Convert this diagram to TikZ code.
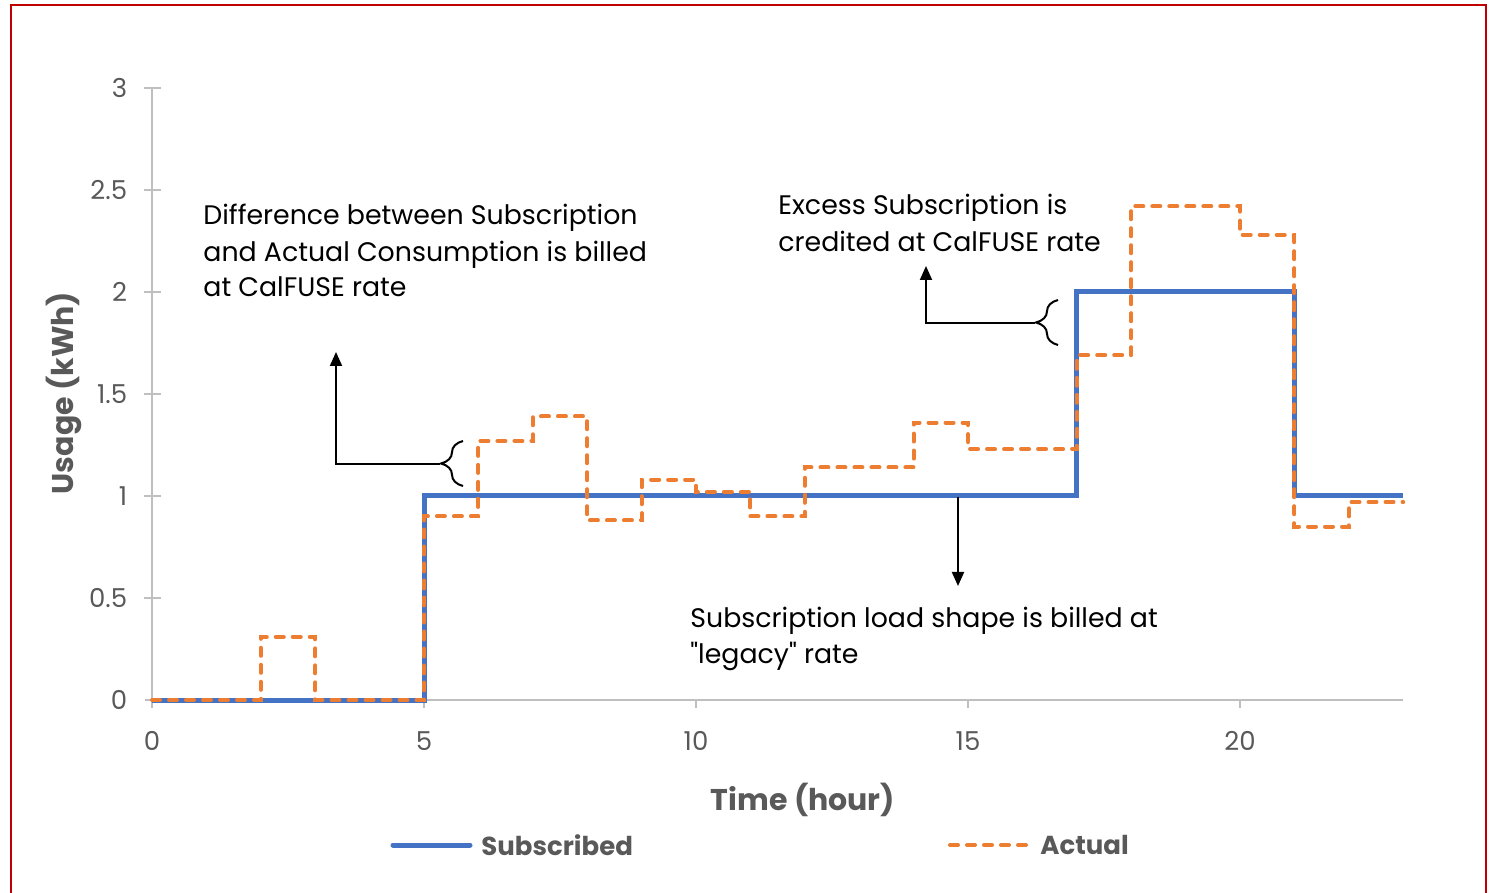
\documentclass[tikz,border=0pt]{standalone}
\usepackage{fontspec}
\setmainfont{Poppins}[Ligatures=TeXOff]
\usetikzlibrary{arrows.meta,decorations.pathreplacing}

\definecolor{subblue}{HTML}{4472C4}
\definecolor{actorange}{HTML}{ED7D31}
\definecolor{axisgray}{HTML}{BFBFBF}
\definecolor{labelgray}{HTML}{595959}
\definecolor{framered}{HTML}{C00000}

\tikzset{
  axisline/.style={axisgray, line width=1pt},
  ticklabel/.style={labelgray, font=\fontsize{13}{15}\selectfont, inner sep=0pt},
  axistitle/.style={labelgray, font=\fontsize{15}{18}\bfseries\selectfont, inner sep=0pt},
  legendtext/.style={labelgray, font=\fontsize{13}{16}\bfseries\selectfont, inner sep=0pt, anchor=west},
  subscribed/.style={subblue, line width=2.5pt},
  actual/.style={actorange, line width=2pt, line cap=round, dash pattern=on 4pt off 4.5pt},
  note/.style={black, font=\fontsize{13.4}{15}\selectfont, inner sep=0pt, anchor=base west},
  callout/.style={black, line width=1pt, -{Triangle[width=6pt,length=7pt]}},
  bracemark/.style={black, line width=1pt, decorate, decoration={brace, amplitude=11pt}},
}

\begin{document}
\begin{tikzpicture}[x=0.5pt, y=-0.5pt]
\useasboundingbox (0,0) rectangle (1496,893);

% open red frame
\draw[framered, line width=1pt] (11,893) -- (11,5) -- (1486,5) -- (1486,893);

% chart in data units: hours along x, kWh along y
\begin{scope}[shift={(152,700)}, xscale=54.4, yscale=-204]
  % axes and ticks
  \draw[axisline] (0,0) -- (0,3);
  \draw[axisline] (-0.13,0) -- (23,0);
  \foreach \v in {0.5,1,...,3} \draw[axisline] (-0.15,\v) -- (0.16,\v);
  \foreach \h in {0,5,...,20} \draw[axisline] (\h,0) -- (\h,-0.04);
  \foreach \v/\t [count=\i] in {0/0,0.5/0.5,1/1,1.5/1.5,2/2,2.5/2.5,3/3}
    \node[ticklabel, anchor=east] (yl\i) at (-0.45,\v) {\t};
  \foreach \h [count=\i] in {0,5,...,20}
    \node[ticklabel] (xl\i) at (\h,-0.2) {\h};

  % subscribed load shape
  \draw[subscribed] (0,0) -- (5,0) -- (5,1) -- (17,1) -- (17,2) -- (21,2)
    -- (21,1) -- (23,1);
  % actual consumption
  \draw[actual] (0,0) -- (2,0) -- (2,0.31) -- (3,0.31) -- (3,0) -- (5,0)
    -- (5,0.9) -- (6,0.9) -- (6,1.27) -- (7,1.27) -- (7,1.39) -- (8,1.39)
    -- (8,0.88) -- (9,0.88) -- (9,1.08) -- (10,1.08) -- (10,1.02) -- (11,1.02)
    -- (11,0.9) -- (12,0.9) -- (12,1.14) -- (14,1.14) -- (14,1.36) -- (15,1.36)
    -- (15,1.23) -- (17,1.23) -- (17,1.69) -- (18,1.69) -- (18,2.42) -- (20,2.42)
    -- (20,2.28) -- (21,2.28) -- (21,0.85) -- (22,0.85) -- (22,0.97) -- (23,0.97);
\end{scope}

% axis titles
\node[axistitle, rotate=90] (ytitle) at (64,393) {Usage (kWh)};
\node[axistitle] (xtitle) at (803,800) {Time (hour)};

% legend
\coordinate (lgA1) at (393,845);
\coordinate (lgA2) at (470,845);
\draw[subscribed, line cap=round] (lgA1) -- (lgA2);
\node[legendtext] (lgAtext) at (481,845) {Subscribed};
\coordinate (lgB1) at (950,845);
\coordinate (lgB2) at (1028,845);
\draw[actual] (lgB1) -- (lgB2);
\node[legendtext] (lgBtext) at (1040,845) {Actual};

% annotation texts
\node[note] (d1) at (203,225) {Difference between Subscription};
\node[note] (d2) at (203,262) {and Actual Consumption is billed};
\node[note] (d3) at (203,297) {at CalFUSE rate};
\node[note] (e1) at (778,215) {Excess Subscription is};
\node[note] (e2) at (778,252) {credited at CalFUSE rate};
\node[note] (s1) at (690,627) {Subscription load shape is billed at};
\node[note] (s2) at (690,663) {"legacy" rate};

% brace over the gap between actual and subscribed (hour 6)
\coordinate (b1top) at (463,441);
\coordinate (b1bot) at (463,486);
\coordinate (b1tip) at (440,464);
\coordinate (b1corner) at (336,464);
\coordinate (b1end) at (336,352);
\draw[bracemark] (b1bot) -- (b1top);
\draw[callout] (b1tip) -- (b1corner) -- (b1end);

% brace over the excess subscription (hour 17)
\coordinate (b2top) at (1058,300);
\coordinate (b2bot) at (1058,345);
\coordinate (b2tip) at (1035,323);
\coordinate (b2corner) at (926,323);
\coordinate (b2end) at (926,266);
\draw[bracemark] (b2bot) -- (b2top);
\draw[callout] (b2tip) -- (b2corner) -- (b2end);

% arrow down from the subscription line
\coordinate (s0) at (958,497);
\coordinate (s0end) at (958,586);
\draw[callout] (s0) -- (s0end);
\end{tikzpicture}
\end{document}
